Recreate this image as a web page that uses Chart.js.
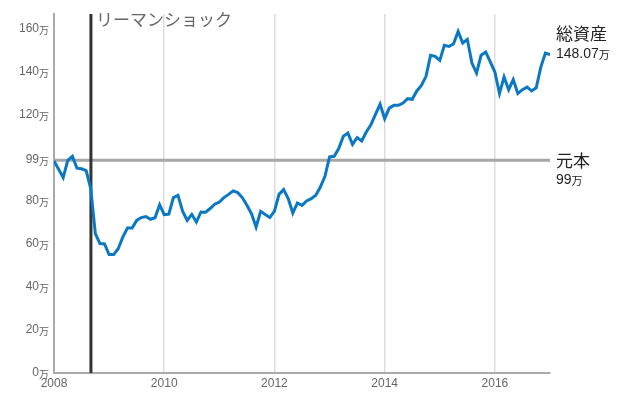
<!DOCTYPE html>
<html>
<head>
<meta charset="utf-8">
<script src="https://cdn.jsdelivr.net/npm/chart.js@4.4.0/dist/chart.umd.min.js"></script>
<style>
  body { margin: 0; background: #fff; }
  canvas { display: block; }
</style>
</head>
<body>
<canvas id="assetChart" width="639" height="396"></canvas>
<script>
// monthly total assets (万円), Jan 2008 - Jan 2017
const startYear = 2008;
const totalAssets = [
  98.6, 94.8, 90.9, 98.9, 100.8, 95.3, 95.0, 94.1, 85.8, 64.8, 60.2, 60.0,
  55.1, 55.1, 57.9, 63.3, 67.4, 67.4, 71.0, 72.3, 72.8, 71.5, 72.2, 78.3,
  73.7, 73.9, 81.6, 82.6, 75.3, 71.0, 73.8, 70.2, 74.9, 74.8, 76.5, 78.5,
  79.5, 81.6, 83.1, 84.7, 83.9, 81.6, 78.0, 74.1, 67.9, 75.2, 73.7, 72.3,
  75.3, 83.1, 85.3, 81.1, 74.4, 79.1, 78.0, 80.0, 81.1, 82.7, 86.5, 91.5,
  100.5, 100.8, 104.4, 110.1, 111.6, 106.4, 109.5, 107.9, 112.1, 115.5, 120.3, 125.0,
  118.3, 123.2, 124.5, 124.5, 125.6, 127.6, 127.3, 131.2, 133.8, 138.0, 147.8, 147.3,
  145.4, 152.4, 151.9, 153.2, 158.9, 153.5, 155.2, 144.2, 139.5, 147.8, 149.3, 144.7,
  140.0, 130.0, 137.7, 131.8, 136.5, 130.0, 131.8, 133.0, 131.2, 132.7, 142.3, 148.8,
  148.07
];
const principal = 99;
const lehmanDate = 2008.67;
const xTicks = [2008, 2010, 2012, 2014, 2016];
const yTicks = [0, 20, 40, 60, 80, 99, 120, 140, 160];

const points = totalAssets.map((v, i) => ({ x: startYear + i / 12, y: v }));

const baseFont = '"Helvetica Neue", Arial, "Liberation Sans", "Noto Sans CJK JP", sans-serif';
const jpFont = '"Noto Sans CJK JP", "Helvetica Neue", Arial, sans-serif';

// draws "123" + small "万", right aligned at x
function drawMan(ctx, num, x, y, bigSize, smallSize, color, align) {
  ctx.save();
  ctx.fillStyle = color;
  ctx.textBaseline = 'middle';
  ctx.font = smallSize + 'px ' + jpFont;
  const wMan = ctx.measureText('万').width;
  ctx.font = bigSize + 'px ' + baseFont;
  const wNum = ctx.measureText(num).width;
  let left = align === 'right' ? x - wMan - wNum : x;
  ctx.textAlign = 'left';
  ctx.fillText(num, left, y);
  ctx.font = smallSize + 'px ' + jpFont;
  ctx.fillText('万', left + wNum, y + 1);
  ctx.restore();
}

const refLines = {
  id: 'refLines',
  beforeDatasetsDraw(chart) {
    const { ctx, chartArea, scales } = chart;
    const yP = scales.y.getPixelForValue(principal);
    const xL = scales.x.getPixelForValue(lehmanDate);
    ctx.save();
    ctx.lineWidth = 3;
    ctx.strokeStyle = '#a6a6a6';
    ctx.beginPath();
    ctx.moveTo(chartArea.left, yP);
    ctx.lineTo(chartArea.right, yP);
    ctx.stroke();
    ctx.strokeStyle = '#333';
    ctx.beginPath();
    ctx.moveTo(xL, chartArea.top);
    ctx.lineTo(xL, chartArea.bottom);
    ctx.stroke();
    ctx.restore();
  },
  afterDraw(chart) {
    const { ctx, chartArea, scales } = chart;
    // y tick labels
    yTicks.forEach(v => {
      drawMan(ctx, String(v), 49, scales.y.getPixelForValue(v), 12, 10, '#666', 'right');
    });
    const xL = scales.x.getPixelForValue(lehmanDate);
    ctx.save();
    ctx.fillStyle = '#666';
    ctx.textBaseline = 'middle';
    ctx.font = '17px ' + jpFont;
    ctx.fillText('リーマンショック', xL + 5, 20);

    const tx = chartArea.right + 6;
    ctx.fillStyle = '#222';
    ctx.font = '17px ' + jpFont;
    ctx.fillText('総資産', tx, 34);
    const yP = scales.y.getPixelForValue(principal);
    ctx.fillText('元本', tx, yP);
    ctx.restore();
    drawMan(ctx, totalAssets[totalAssets.length - 1].toFixed(2), tx, 54, 14, 11, '#222', 'left');
    drawMan(ctx, String(principal), tx, yP + 20, 14, 11, '#222', 'left');
  }
};

new Chart(document.getElementById('assetChart').getContext('2d'), {
  type: 'line',
  data: {
    datasets: [{
      label: '総資産',
      data: points,
      borderColor: '#0a78c2',
      borderWidth: 3,
      pointRadius: 0,
      tension: 0,
      fill: false
    }]
  },
  options: {
    responsive: false,
    devicePixelRatio: 1,
    animation: false,
    layout: { padding: { top: 14, right: 89, left: 0, bottom: 0 } },
    plugins: { legend: { display: false }, tooltip: { enabled: false } },
    scales: {
      x: {
        type: 'linear',
        min: 2008,
        max: 2017,
        afterBuildTicks: s => { s.ticks = xTicks.map(v => ({ value: v })); },
        afterFit: s => { s.height = 23; },
        grid: {
          color: c => (c.tick && c.tick.value === 2008 ? 'rgba(0,0,0,0)' : '#ddd'),
          lineWidth: 1.5,
          drawTicks: false
        },
        border: { color: '#aaa', width: 2 },
        ticks: {
          color: '#666',
          padding: 3,
          maxRotation: 0,
          font: { size: 12, family: baseFont },
          callback: v => String(v)
        }
      },
      y: {
        min: 0,
        max: 167,
        afterBuildTicks: s => { s.ticks = yTicks.map(v => ({ value: v })); },
        afterFit: s => { s.width = 54; },
        grid: { display: false, drawTicks: false },
        border: { color: '#aaa', width: 2 },
        ticks: { display: false }
      }
    }
  },
  plugins: [refLines]
});
</script>
</body>
</html>
